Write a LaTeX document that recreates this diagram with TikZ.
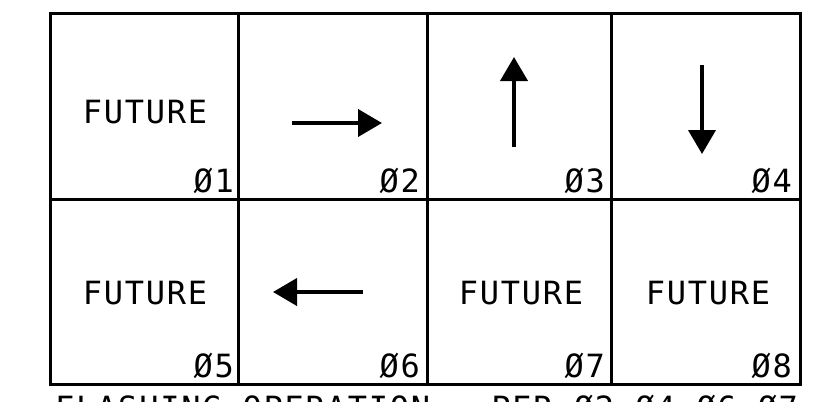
\documentclass[tikz,border=0pt]{standalone}
\usepackage{fontspec}
\newfontfamily\cadfont{DejaVu Sans Mono}[LetterSpace=5.5]
\usetikzlibrary{arrows.meta}
\begin{document}
\begin{tikzpicture}[x=1pt,y=-1pt,
  grid/.style={line width=3pt},
  flow/.style={line width=4pt,-{Triangle[length=24pt,width=27pt]}},
  future/.style={font=\cadfont\fontsize{32}{32}\selectfont,inner sep=0pt},
  phase/.style={font=\cadfont\fontsize{32}{32}\selectfont,inner sep=0pt,anchor=base east},
  note/.style={font=\cadfont\fontsize{32}{32}\selectfont,inner sep=0pt,anchor=base west}]
\useasboundingbox (0,0) rectangle (831,402);
% grid
\draw[grid] (50,13) rectangle (800,384);
\draw[grid] (50,199) -- (800,199);
\draw[grid] (238,13) -- (238,384);
\draw[grid] (427,13) -- (427,384);
\draw[grid] (611,13) -- (611,384);
% texts
\node[future] (f1) at (145,112) {FUTURE};
\node[future] (f5) at (145,293) {FUTURE};
\node[future] (f7) at (521,293) {FUTURE};
\node[future] (f8) at (708,293) {FUTURE};
\node[phase] (p1) at (234,192) {Ø1};
\node[phase] (p2) at (420,192) {Ø2};
\node[phase] (p3) at (605,192) {Ø3};
\node[phase] (p4) at (792,192) {Ø4};
\node[phase] (p5) at (234,377) {Ø5};
\node[phase] (p6) at (420,377) {Ø6};
\node[phase] (p7) at (605,377) {Ø7};
\node[phase] (p8) at (792,377) {Ø8};
\node[note] (n) at (55,419.5) {FLASHING OPERATION - PER Ø2 Ø4 Ø6 Ø7};
% arrows
\coordinate (a2s) at (292,123); \coordinate (a2e) at (382,123);
\coordinate (a3s) at (514,147); \coordinate (a3e) at (514,57);
\coordinate (a4s) at (702,65);  \coordinate (a4e) at (702,154);
\coordinate (a6s) at (363,292); \coordinate (a6e) at (273,292);
\draw[flow] (a2s) -- (a2e);
\draw[flow] (a3s) -- (a3e);
\draw[flow] (a4s) -- (a4e);
\draw[flow] (a6s) -- (a6e);
\end{tikzpicture}
\end{document}
